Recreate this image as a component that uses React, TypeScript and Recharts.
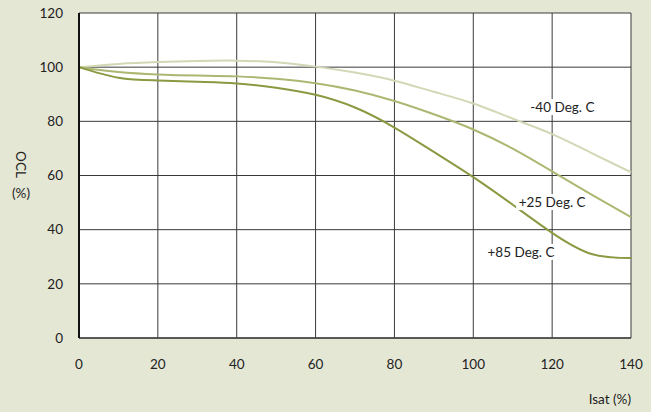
import React from 'react';
import { LineChart, Line, XAxis, YAxis, CartesianGrid, ReferenceDot, Label } from 'recharts';

// Isat (%) sample points along the x axis
const isat = [0, 10, 20, 30, 40, 50, 60, 70, 80, 90, 100, 110, 120, 130, 140];

// OCL (%), one list per temperature
const oclMinus40 = [100, 101.2, 101.9, 102.3, 102.4, 101.8, 100.2, 98.0, 95.0, 90.9, 86.6, 81.0, 75.3, 68.3, 61.2];
const oclPlus25 = [100, 98.2, 97.3, 96.9, 96.6, 95.7, 94.1, 91.4, 87.5, 82.6, 77.0, 69.9, 61.5, 52.9, 44.6];
const oclPlus85 = [100, 96.1, 95.1, 94.6, 94.0, 92.4, 89.8, 85.1, 77.7, 68.7, 59.4, 49.2, 38.8, 31.0, 29.5];

const xTicks = [0, 20, 40, 60, 80, 100, 120, 140];
const yTicks = [0, 20, 40, 60, 80, 100, 120];

// curve annotations, anchored in data units
const tempNames = ['-40 Deg. C', '+25 Deg. C', '+85 Deg. C'];
const tempIsat = [122.6, 120, 112.1];
const tempOcl = [85.3, 50.2, 31.8];

const data = isat.map((x, i) => ({
    isat: x,
    m40: oclMinus40[i],
    p25: oclPlus25[i],
    p85: oclPlus85[i],
}));

const FONT = 'Lato, "Open Sans", sans-serif';
const BG = '#e5e7d5';

const renderYLabel = (props: any) => {
    const vb = props.viewBox || { x: 0, y: 13, width: 79, height: 325 };
    const cy = vb.y + vb.height / 2;
    const cx = vb.x + 21;
    return (
        <g>
            <text
                x={cx}
                y={cy - 11}
                transform={`rotate(90 ${cx} ${cy - 11})`}
                textAnchor="middle"
                dominantBaseline="central"
                fontFamily={FONT}
                fontSize={13.5}
                fill="#222"
            >
                OCL
            </text>
            <text x={cx} y={cy + 22} textAnchor="middle" fontFamily={FONT} fontSize={13.5} fill="#222">
                (%)
            </text>
        </g>
    );
};

// white box behind the text hides the grid line it sits on
const tempLabelShape = (name: string) => (p: any) => (
    <g>
        <rect x={p.cx - 36} y={p.cy - 8} width={72} height={16} fill="#fff" />
        <text
            x={p.cx}
            y={p.cy}
            textAnchor="middle"
            dominantBaseline="central"
            fontFamily={FONT}
            fontSize={13.5}
            fill="#222"
        >
            {name}
        </text>
    </g>
);

export default function App() {
    return (
        <div style={{ position: 'absolute', left: 0, top: 0, width: 651, height: 412, background: BG, fontFamily: FONT }}>
            <LineChart width={651} height={412} data={data} margin={{ top: 13, right: 20, bottom: 0, left: 0 }}>
                <CartesianGrid stroke="#3a3a3a" strokeWidth={1} fill="#fff" fillOpacity={1} />
                <XAxis
                    dataKey="isat"
                    type="number"
                    domain={[0, 140]}
                    ticks={xTicks}
                    height={74}
                    tickSize={0}
                    tickMargin={21}
                    axisLine={{ stroke: '#444', strokeWidth: 1.5 }}
                    tick={{ fontSize: 13.5, fill: '#222', fontFamily: FONT }}
                >
                    <Label value="Isat (%)" position="insideBottomRight" offset={8} dx={8} fontSize={13.5} fill="#222" fontFamily={FONT} />
                </XAxis>
                <YAxis
                    type="number"
                    domain={[0, 120]}
                    ticks={yTicks}
                    width={79}
                    tickSize={0}
                    tickMargin={16}
                    axisLine={{ stroke: '#111', strokeWidth: 2 }}
                    tick={{ fontSize: 13.5, fill: '#222', fontFamily: FONT }}
                >
                    <Label content={renderYLabel} />
                </YAxis>
                {tempNames.map((name, i) => (
                    <ReferenceDot
                        key={name}
                        x={tempIsat[i]}
                        y={tempOcl[i]}
                        r={0}
                        shape={tempLabelShape(name)}
                    />
                ))}
                <Line type="natural" dataKey="m40" stroke="#d2d8b5" strokeWidth={2} dot={false} isAnimationActive={false} />
                <Line type="natural" dataKey="p25" stroke="#aeb772" strokeWidth={2} dot={false} isAnimationActive={false} />
                <Line type="natural" dataKey="p85" stroke="#8a9a42" strokeWidth={2} dot={false} isAnimationActive={false} />
            </LineChart>
        </div>
    );
}
